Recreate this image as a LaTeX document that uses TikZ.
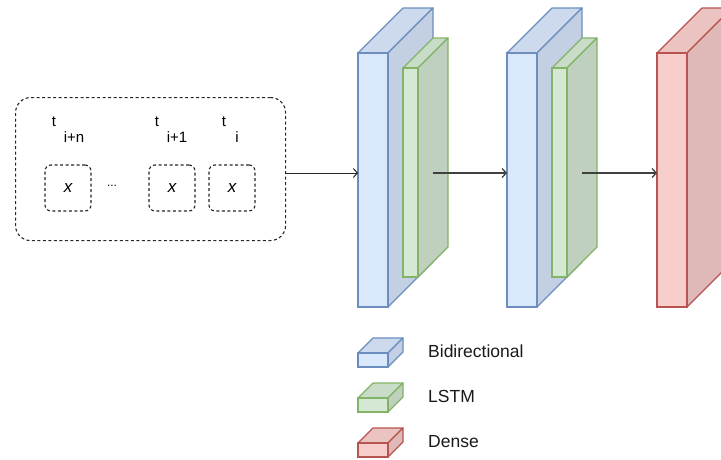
\documentclass[tikz,border=0pt]{standalone}
\usepackage{fontspec}
\setmainfont{Liberation Sans}
\usetikzlibrary{arrows.meta}

\definecolor{blfront}{HTML}{DAE8FC}
\definecolor{bltop}{HTML}{CDDAEE}
\definecolor{blside}{HTML}{C3CFE3}
\definecolor{blline}{HTML}{6C8EBF}
\definecolor{grfront}{HTML}{D5E8D4}
\definecolor{grtop}{HTML}{C8DCC7}
\definecolor{grside}{HTML}{BFD1BE}
\definecolor{grline}{HTML}{82B366}
\definecolor{rdfront}{HTML}{F8CECC}
\definecolor{rdtop}{HTML}{EBC3C1}
\definecolor{rdside}{HTML}{DFB9B8}
\definecolor{rdline}{HTML}{B85450}

% a layer drawn as a slab: name, x, y (top-left of front face), width, height, depth, colour prefix
\newcommand\slab[7]{%
  \path[fill=#7top,draw=#7line,line width=1.2pt,line join=round]
    (#2,#3) -- ++(#6,-#6) -- ++(#4,0) -- ++(-#6,#6) -- cycle;
  \path[fill=#7side,draw=#7line,line width=1.2pt,line join=round]
    (#2+#4,#3) -- ++(#6,-#6) -- ++(0,#5) -- ++(-#6,#6) -- cycle;
  \node[draw=#7line,fill=#7front,line width=1.2pt,anchor=north west,inner sep=0pt,outer sep=0pt,
        minimum width=#4pt,minimum height=#5pt] (#1) at (#2,#3) {};
  \coordinate (#1-back) at (#2+#4+#6,#3);
}

\begin{document}
\begin{tikzpicture}[x=1pt,y=-1pt,
  dashbox/.style={draw=black!85,line width=1.1pt,dash pattern=on 3pt off 2.5pt},
  stepcell/.style={dashbox,rounded corners=6pt,minimum width=46pt,minimum height=46pt,
                   inner sep=0pt,font=\fontsize{17}{19}\selectfont\itshape},
  tlabel/.style={anchor=base,inner sep=0pt,font=\fontsize{15}{17}\selectfont},
  sublabel/.style={anchor=base,inner sep=0pt,font=\fontsize{15}{17}\selectfont},
  legendtext/.style={anchor=base west,inner sep=0pt,text=black!90,font=\fontsize{17.5}{20}\selectfont},
  conn/.style={draw=black!75,line width=1.3pt,-{Straight Barb[length=4pt,width=9pt]}}]
\useasboundingbox (0,0) rectangle (721,459);
\clip (0,0) rectangle (721,459);

% input sequence
\node[dashbox,rounded corners=15pt,minimum width=270pt,minimum height=143pt,
      anchor=north west,inner sep=0pt] (inputs) at (15,97) {};
\node[stepcell] (xa) at (68,188) {x};
\node[stepcell] (xb) at (172,188) {x};
\node[stepcell] (xc) at (232,188) {x};
\node[anchor=base,inner sep=0pt,font=\fontsize{12}{13}\selectfont] (dots) at (112,186.5) {...};

\node[tlabel] (ta) at (54,126) {t};
\node[sublabel] (sa) at (74,142) {i+n};
\node[tlabel] (tb) at (157,126) {t};
\node[sublabel] (sb) at (177,142) {i+1};
\node[tlabel] (tc) at (224,126) {t};
\node[sublabel] (sc) at (237,142) {i};

% layers
\slab{bi1}{358}{53}{30}{254}{45}{bl}
\slab{ls1}{403}{68}{15}{209}{30}{gr}
\slab{bi2}{507}{53}{30}{254}{45}{bl}
\slab{ls2}{552}{68}{15}{209}{30}{gr}
\slab{de}{657}{53}{30}{254}{45}{rd}

% connections
\coordinate (lvl) at (0,173);
\draw[conn,line width=1pt,draw=black!85] (inputs.east |- lvl) -- (bi1.west |- lvl);
\draw[conn] (bi1-back |- lvl) -- (bi2.west |- lvl);
\draw[conn] (bi2-back |- lvl) -- (de.west |- lvl);

% legend
\slab{lgb}{358}{353}{30}{14}{15}{bl}
\slab{lgl}{358}{398}{30}{14}{15}{gr}
\slab{lgd}{358}{443}{30}{14}{15}{rd}
\node[legendtext] (tb1) at (428,357) {Bidirectional};
\node[legendtext] (tl1) at (428,402) {LSTM};
\node[legendtext] (td1) at (428,447) {Dense};
\end{tikzpicture}
\end{document}
